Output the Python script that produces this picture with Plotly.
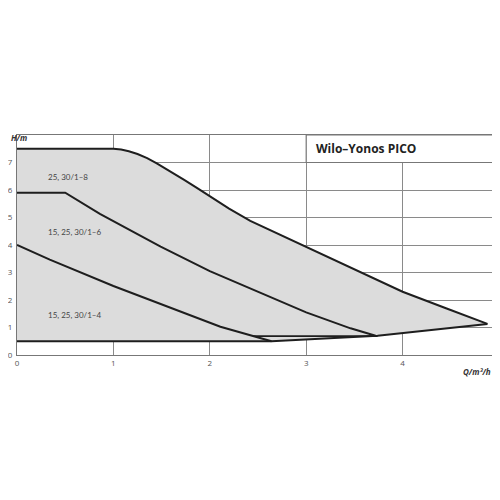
import plotly.graph_objects as go

# Pump curves (Q in m3/h, H in m)
q_max = [0, 1.0, 1.08, 1.16, 1.25, 1.35, 1.45, 1.6, 1.73, 1.87, 2.0, 2.2, 2.42,
         2.7, 3.0, 3.5, 4.0, 4.45, 4.88]
h_max = [7.5, 7.5, 7.47, 7.41, 7.31, 7.16, 6.97, 6.66, 6.38, 6.07, 5.77, 5.32, 4.88,
         4.42, 3.94, 3.12, 2.30, 1.70, 1.13]

q_6 = [0, 0.5, 0.86, 1.0, 1.49, 2.0, 2.70, 3.0, 3.46, 3.72]
h_6 = [5.9, 5.9, 5.13, 4.86, 3.94, 3.05, 2.0, 1.55, 0.97, 0.70]

q_4 = [0, 0.34, 1.0, 1.38, 2.0, 2.11, 2.64]
h_4 = [4.0, 3.47, 2.51, 2.0, 1.18, 1.03, 0.5]

q_min = [0, 2.64, 3.74, 4.88]
h_min = [0.5, 0.5, 0.7, 1.13]

q_low6 = [2.45, 3.74]
h_low6 = [0.69, 0.69]

labels = ["25, 30/1–8", "15, 25, 30/1–6", "15, 25, 30/1–4"]
label_q = [0.53, 0.60, 0.60]
label_h = [6.48, 4.47, 1.45]

x_ticks = [0, 1, 2, 3, 4]
y_ticks = [0, 1, 2, 3, 4, 5, 6, 7]

title_text = "Wilo–Yonos PICO"

line_col = "#1e1e1e"
fig = go.Figure()

# gray envelope
fig.add_trace(go.Scatter(
    x=q_max + q_min[::-1], y=h_max + h_min[::-1],
    fill="toself", fillcolor="#dcdcdc", line=dict(width=0),
    mode="lines", hoverinfo="skip", showlegend=False))

for qs, hs, w in [(q_max, h_max, 2), (q_6, h_6, 2), (q_4, h_4, 2),
                  (q_min, h_min, 2), (q_low6, h_low6, 1.8)]:
    fig.add_trace(go.Scatter(x=qs, y=hs, mode="lines",
                             line=dict(color=line_col, width=w),
                             showlegend=False, hoverinfo="skip"))

annotations = []
for t, q, h in zip(labels, label_q, label_h):
    annotations.append(dict(x=q, y=h, text=t, showarrow=False,
                            font=dict(size=8, color="#444", family="Lato")))

annotations.append(dict(x=3.08, y=7.5, text="<b>" + title_text + "</b>",
                        xanchor="left", showarrow=False,
                        font=dict(size=12, color="#222", family="Open Sans")))
annotations.append(dict(xref="paper", yref="paper", x=-8/482, y=0.99,
                        xanchor="left", yanchor="middle", showarrow=False,
                        text="<b><i>H/m</i></b>",
                        font=dict(size=8, color="#333", family="Open Sans")))
annotations.append(dict(xref="paper", yref="paper", x=0.988, y=-0.075,
                        xanchor="right", yanchor="middle", showarrow=False,
                        text="<b><i>Q/m³/h</i></b>",
                        font=dict(size=8, color="#333", family="Open Sans")))

# page body adds an 8px offset, so the figure is 492 px and margins shift by 8
fig.update_layout(
    width=492, height=492,
    margin=dict(l=9, r=1, t=127, b=145, autoexpand=False),
    paper_bgcolor="white", plot_bgcolor="white",
    annotations=annotations,
    shapes=[dict(type="rect", xref="x", yref="y", x0=3, x1=5, y0=7, y1=8,
                 fillcolor="white", line=dict(color="#777", width=1.2),
                 layer="above")],
    xaxis=dict(range=[0, 5], tickvals=x_ticks, showgrid=True, automargin=False,
               gridcolor="#8a8a8a", gridwidth=1, zeroline=False,
               showline=True, linecolor="#777", linewidth=1.2, mirror=True,
               ticks="", tickfont=dict(size=8, color="#555", family="Open Sans"),
               ticklabelstandoff=0),
    yaxis=dict(range=[0, 8], tickvals=y_ticks, showgrid=True, automargin=False,
               gridcolor="#8a8a8a", gridwidth=1, zeroline=False,
               showline=True, linecolor="#777", linewidth=1.2, mirror=True,
               ticks="", tickfont=dict(size=8, color="#555", family="Open Sans"),
               ticklabelstandoff=2),
)

fig.write_html("out.html")
